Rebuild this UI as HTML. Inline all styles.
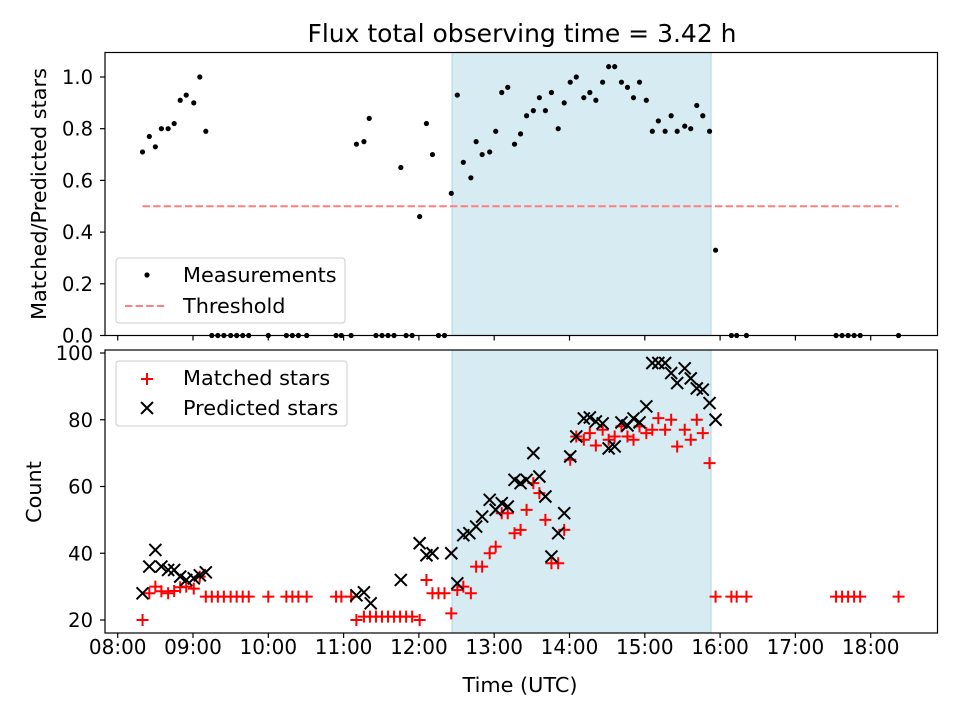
<!DOCTYPE html>
<html><head><meta charset="utf-8"><style>
html,body{margin:0;padding:0;background:#fff;}
svg{display:block;font-family:"DejaVu Sans","Liberation Sans",sans-serif;}
</style></head><body>
<svg id="chart" width="960" height="720" viewBox="0 0 960 720" xmlns="http://www.w3.org/2000/svg"></svg>
<script>
// ---- data (hours UTC as decimal) ----
const ratioTimes=[8.33,8.42,8.50,8.58,8.67,8.75,8.83,8.91,9.01,9.09,9.17,11.17,11.27,11.34,11.76,12.01,12.10,12.18,12.43,12.51,12.59,12.69,12.76,12.84,12.94,13.02,13.10,13.18,13.27,13.35,13.43,13.52,13.60,13.68,13.76,13.85,13.93,14.01,14.09,14.19,14.27,14.35,14.44,14.52,14.60,14.69,14.77,14.85,14.93,15.02,15.10,15.18,15.27,15.35,15.43,15.53,15.61,15.69,15.77,15.86,15.94];
const ratioValues=[0.71,0.77,0.73,0.80,0.80,0.82,0.91,0.93,0.90,1.00,0.79,0.74,0.75,0.84,0.65,0.46,0.82,0.70,0.55,0.93,0.67,0.61,0.75,0.70,0.71,0.79,0.94,0.96,0.74,0.78,0.85,0.87,0.92,0.87,0.94,0.80,0.90,0.98,1.00,0.92,0.94,0.91,0.98,1.04,1.04,0.98,0.96,0.92,0.98,0.91,0.79,0.83,0.79,0.85,0.79,0.81,0.80,0.89,0.85,0.79,0.33];
const zeroTimes=[9.25,9.33,9.41,9.50,9.58,9.66,9.74,10.00,10.24,10.32,10.40,10.51,10.90,10.97,11.10,11.43,11.51,11.59,11.67,11.83,11.91,12.26,12.34,16.15,16.22,16.35,17.54,17.62,17.70,17.78,17.86,18.37];
const predTimes=[8.33,8.42,8.50,8.58,8.67,8.75,8.83,8.91,9.01,9.09,9.17,11.17,11.27,11.36,11.76,12.01,12.10,12.18,12.43,12.51,12.59,12.67,12.76,12.84,12.94,13.02,13.10,13.18,13.27,13.35,13.43,13.52,13.60,13.68,13.76,13.85,13.93,14.01,14.09,14.19,14.27,14.35,14.44,14.52,14.60,14.69,14.77,14.85,14.93,15.02,15.10,15.18,15.27,15.35,15.43,15.53,15.61,15.69,15.77,15.86,15.94];
const predValues=[28,36,41,36,35,35,33,32,32.5,33.4,34.3,27.4,28.3,25,32,43,39.4,40,40,31,45.4,46,48,51,56,53,55,54,62,61,62,70,63,57,39,46,52,69,75,80.4,80.7,79.5,78.9,71.4,72,79.2,78.3,80.4,79.2,84,97,97,97,94,91,95.4,92.4,89.4,89,85,80];
const matchTimes=[8.33,8.42,8.50,8.58,8.67,8.75,8.83,8.91,9.01,9.09,9.17,9.25,9.33,9.41,9.50,9.58,9.66,9.74,10.00,10.24,10.32,10.40,10.51,10.90,10.97,11.10,11.17,11.27,11.35,11.43,11.51,11.59,11.67,11.75,11.83,11.91,12.01,12.10,12.18,12.26,12.34,12.43,12.51,12.59,12.69,12.76,12.84,12.94,13.02,13.10,13.18,13.27,13.35,13.43,13.52,13.60,13.68,13.76,13.85,13.93,14.01,14.09,14.19,14.27,14.35,14.44,14.52,14.60,14.69,14.77,14.85,14.93,15.02,15.10,15.18,15.27,15.35,15.43,15.53,15.61,15.69,15.77,15.86,15.94,16.15,16.22,16.35,17.54,17.62,17.70,17.78,17.86,18.37];
const matchValues=[20,28,30,28.6,28,28.7,29.8,30,29.4,33,27,27,27,27,27,27,27,27,27,27,27,27,27,27,27,27,20,21,21,21,21,21,21,21,21,21,20,32,28,28,28,22,29,30,28,36,36,40,42,52,52,46,47,53,61,58,50,37,37,47,68,75,74,76,72.3,77,74,75,78,75,74,78,76,77,80.5,77,80,72,77,74,80,76,67,27,27,27,27,27,27,27,27,27,27];
const xTickLabels=["08:00","09:00","10:00","11:00","12:00","13:00","14:00","15:00","16:00","17:00","18:00"];
const xTickHours=[8,9,10,11,12,13,14,15,16,17,18];
const topTicks=[0,0.2,0.4,0.6,0.8,1.0];
const botTicks=[20,40,60,80,100];
const threshold=0.5, thrStart=8.33, thrEnd=18.37;
const shadeStart=12.44, shadeEnd=15.88;

const svg=document.getElementById('chart');
const NS='http://www.w3.org/2000/svg';
function mk(tag,attrs,parent,name,inter){const e=document.createElementNS(NS,tag);for(const k in attrs)e.setAttribute(k,attrs[k]);(parent||svg).appendChild(e);


return e;}
function txt(x,y,s,attrs,name,parent){const t=mk('text',Object.assign({x:x,y:y,'font-size':20.8,fill:'#000'},attrs||{}),parent,name);t.textContent=s;return t;}

const L=105,R=937.5;
const xS=h=>117.7+(h-8)*75.3;
const T={top:52.5,bot:335.5};const yT=v=>335.5-v*258.5;
const B={top:350,bot:633};const yB=v=>620-(v-20)*3.3375;

mk('rect',{x:xS(shadeStart),y:T.top,width:xS(shadeEnd)-xS(shadeStart),height:T.bot-T.top,fill:'#add8e6','fill-opacity':0.5,stroke:'#add8e6'},svg,'good-period-shade-top');
mk('rect',{x:xS(shadeStart),y:B.top,width:xS(shadeEnd)-xS(shadeStart),height:B.bot-B.top,fill:'#add8e6','fill-opacity':0.5,stroke:'#add8e6'},svg,'good-period-shade-bottom');

mk('line',{x1:xS(thrStart),x2:xS(thrEnd),y1:yT(threshold),y2:yT(threshold),stroke:'#ff7f7f','stroke-width':2,'stroke-dasharray':'7.4,3.2'},svg,'threshold-line');

const gT=mk('g',{},svg,'measurements-series');
ratioTimes.forEach((h,i)=>{mk('circle',{cx:xS(h),cy:yT(ratioValues[i]),r:2.6,fill:'#000'},gT,'measurement-point');});
zeroTimes.forEach(h=>{mk('circle',{cx:xS(h),cy:yT(0),r:2.6,fill:'#000'},gT,'measurement-point-zero');});

const gM=mk('g',{},svg,'matched-series');
matchTimes.forEach((h,i)=>{const x=xS(h),y=yB(matchValues[i]);
 mk('path',{d:`M${x-6},${y}H${x+6}M${x},${y-6}V${y+6}`,stroke:'#f00','stroke-width':2,fill:'none'},gM,'matched-point');});
const gP=mk('g',{},svg,'predicted-series');
predTimes.forEach((h,i)=>{const x=xS(h),y=yB(predValues[i]);
 mk('path',{d:`M${x-6},${y-6}L${x+6},${y+6}M${x-6},${y+6}L${x+6},${y-6}`,stroke:'#000','stroke-width':2,fill:'none'},gP,'predicted-point');});

mk('rect',{x:L,y:T.top,width:R-L,height:T.bot-T.top,fill:'none',stroke:'#000','stroke-width':1.2},svg,'top-axes-frame');
mk('rect',{x:L,y:B.top,width:R-L,height:B.bot-B.top,fill:'none',stroke:'#000','stroke-width':1.2},svg,'bottom-axes-frame');

xTickHours.forEach((h,i)=>{const x=xS(h);
 mk('line',{x1:x,x2:x,y1:T.bot,y2:T.bot+5,stroke:'#000','stroke-width':1.2},svg,'top-x-tick');
 mk('line',{x1:x,x2:x,y1:B.bot,y2:B.bot+5,stroke:'#000','stroke-width':1.2},svg,'x-tick');
 txt(x,654,xTickLabels[i],{'text-anchor':'middle','font-size':20},'x-tick-label');});
topTicks.forEach(v=>{const y=yT(v);mk('line',{x1:L-5,x2:L,y1:y,y2:y,stroke:'#000','stroke-width':1.2},svg,'top-y-tick');
 txt(L-12,y+7,v.toFixed(1),{'text-anchor':'end','font-size':19.5},'top-y-tick-label');});
botTicks.forEach(v=>{const y=yB(v);mk('line',{x1:L-5,x2:L,y1:y,y2:y,stroke:'#000','stroke-width':1.2},svg,'bottom-y-tick');
 txt(L-12,y+7,String(v),{'text-anchor':'end','font-size':19.5},'bottom-y-tick-label');});

txt(522,42,'Flux total observing time = 3.42 h',{'text-anchor':'middle','font-size':25},'chart-title');
txt(520,692,'Time (UTC)',{'text-anchor':'middle'},'x-axis-title');
txt(46,194,'Matched/Predicted stars',{'text-anchor':'middle',transform:'rotate(-90 46 194)'},'top-y-axis-title');
txt(41,492,'Count',{'text-anchor':'middle',transform:'rotate(-90 41 492)'},'bottom-y-axis-title');

const lg1=mk('g',{},svg,'top-legend');
mk('rect',{x:116,y:258,width:229,height:65,rx:3,fill:'#fff','fill-opacity':0.8,stroke:'#ccc'},lg1,'top-legend-box');
mk('circle',{cx:147,cy:275,r:2.6,fill:'#000'},lg1,'legend-measurements-marker');
txt(183,282,'Measurements',{},'legend-measurements-label',lg1);
mk('line',{x1:125,x2:167,y1:306,y2:306,stroke:'#ff7f7f','stroke-width':2,'stroke-dasharray':'7.4,3.2'},lg1,'legend-threshold-marker');
txt(183,313,'Threshold',{},'legend-threshold-label',lg1);

const lg2=mk('g',{},svg,'bottom-legend');
mk('rect',{x:116,y:361,width:231,height:65,rx:3,fill:'#fff','fill-opacity':0.8,stroke:'#ccc'},lg2,'bottom-legend-box');
mk('path',{d:'M141,379H153M147,373V385',stroke:'#f00','stroke-width':2},lg2,'legend-matched-marker');
txt(183,385,'Matched stars',{},'legend-matched-label',lg2);
mk('path',{d:'M141,402L153,414M141,414L153,402',stroke:'#000','stroke-width':2},lg2,'legend-predicted-marker');
txt(183,415,'Predicted stars',{},'legend-predicted-label',lg2);
</script>
</body></html>
